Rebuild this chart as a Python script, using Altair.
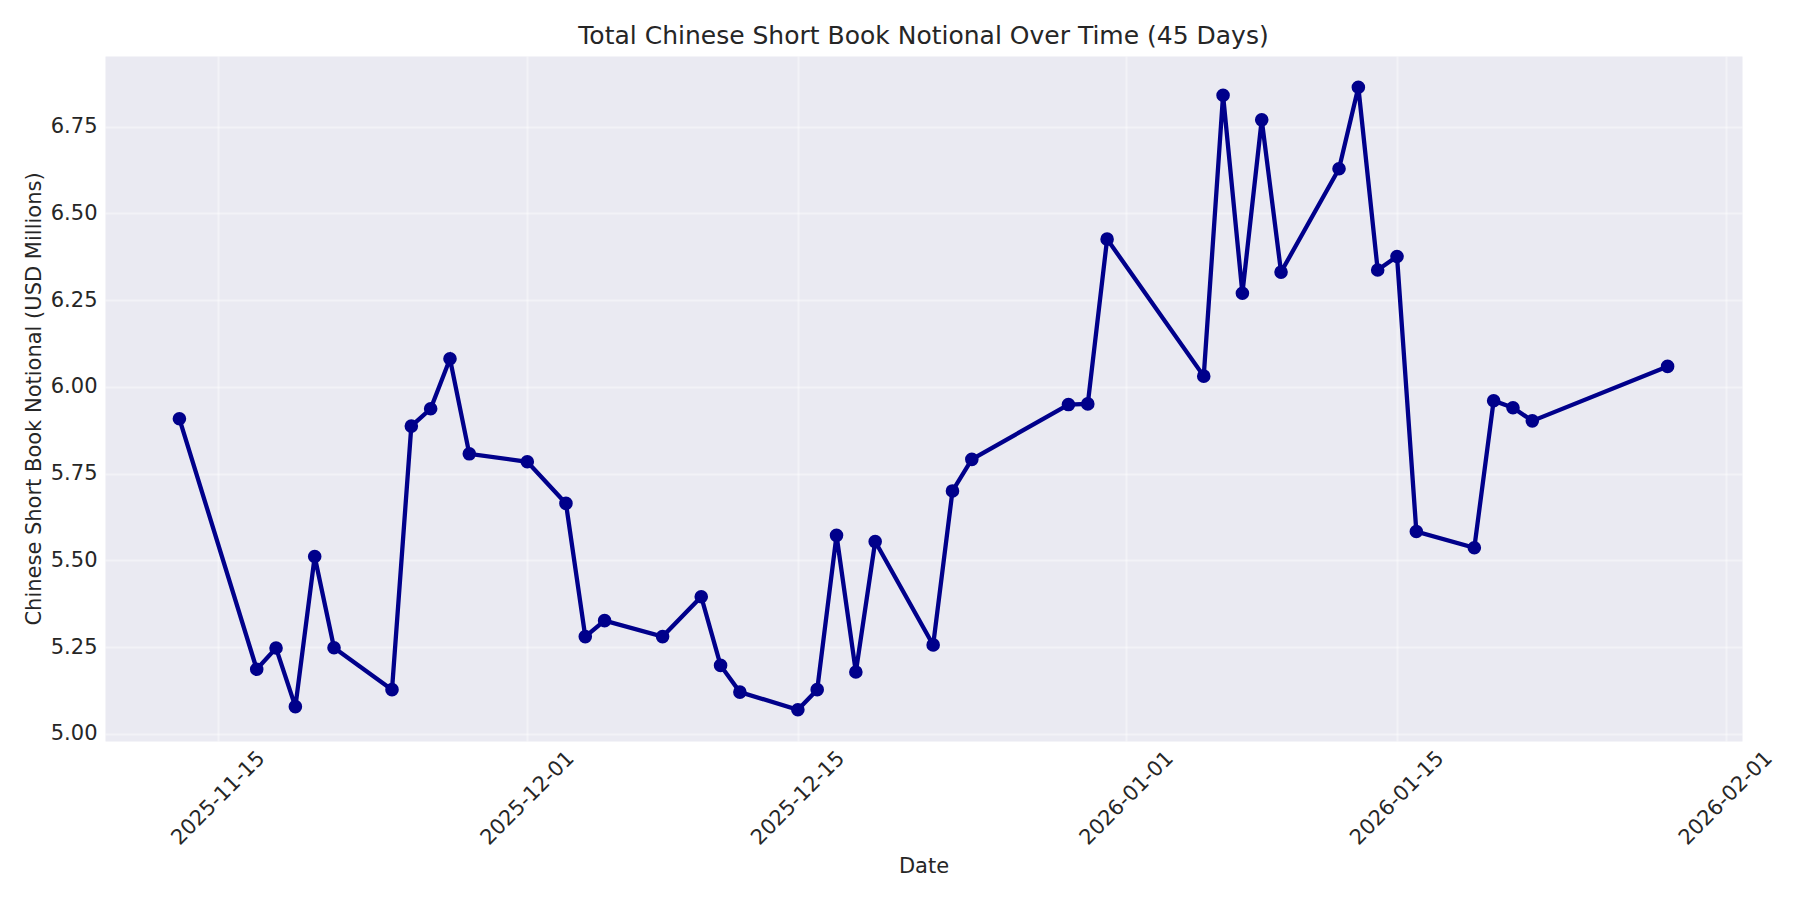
import altair as alt
import pandas as pd

dates = [
    "2025-11-13", "2025-11-17", "2025-11-18", "2025-11-19", "2025-11-20",
    "2025-11-21", "2025-11-24", "2025-11-25", "2025-11-26", "2025-11-27",
    "2025-11-28", "2025-12-01", "2025-12-03", "2025-12-04", "2025-12-05",
    "2025-12-08", "2025-12-10", "2025-12-11", "2025-12-12", "2025-12-15",
    "2025-12-16", "2025-12-17", "2025-12-18", "2025-12-19", "2025-12-22",
    "2025-12-23", "2025-12-24", "2025-12-29", "2025-12-30", "2025-12-31",
    "2026-01-05", "2026-01-06", "2026-01-07", "2026-01-08", "2026-01-09",
    "2026-01-12", "2026-01-13", "2026-01-14", "2026-01-15", "2026-01-16",
    "2026-01-19", "2026-01-20", "2026-01-21", "2026-01-22", "2026-01-29",
]
values = [
    5.908, 5.186, 5.247, 5.078, 5.511,
    5.248, 5.127, 5.887, 5.937, 6.081,
    5.807, 5.784, 5.664, 5.280, 5.326,
    5.280, 5.395, 5.197, 5.120, 5.069,
    5.127, 5.572, 5.178, 5.554, 5.256,
    5.700, 5.791, 5.949, 5.951, 6.426,
    6.031, 6.841, 6.270, 6.770, 6.331,
    6.629, 6.864, 6.337, 6.376, 5.583,
    5.536, 5.960, 5.940, 5.902, 6.059,
]
x_ticks = ["2025-11-15", "2025-12-01", "2025-12-15", "2026-01-01", "2026-01-15", "2026-02-01"]
y_ticks = [5.00, 5.25, 5.50, 5.75, 6.00, 6.25, 6.50, 6.75]

df = pd.DataFrame({"date": dates, "value": values})


def dt(s, h=0, m=0):
    yy, mo, d = map(int, s.split("-"))
    return alt.DateTime(year=yy, month=mo, date=d, hours=h, minutes=m, utc=True)


x_domain = [dt("2025-11-09", 3, 36), dt("2026-02-01", 20, 24)]
y_domain = [4.979, 6.954]

W, H = 1637, 685
TEXT = "#262626"
FONT = "DejaVu Sans"
NAVY = "#00008B"

base = alt.Chart(df).encode(
    x=alt.X(
        "date:T",
        title="Date",
        scale=alt.Scale(type="utc", domain=x_domain),
        axis=alt.Axis(
            values=[dt(s) for s in x_ticks],
            format="%Y-%m-%d",
            labelAngle=-45,
            labelAlign="center",
            labelBaseline="middle",
            labelPadding=57,
            labelFlush=False,
            labelOverlap=False,
            titleX=W / 2,
            titleY=131,
            titleBaseline="alphabetic",
        ),
    ),
    y=alt.Y(
        "value:Q",
        title="Chinese Short Book Notional (USD Millions)",
        scale=alt.Scale(domain=y_domain, nice=False, zero=False),
        axis=alt.Axis(
            values=y_ticks,
            format=".2f",
            labelPadding=8,
            labelOverlap=False,
            titleX=-65,
            titleY=H / 2,
            titleBaseline="alphabetic",
        ),
    ),
)

line = base.mark_line(color=NAVY, strokeWidth=4.3)
points = base.mark_circle(color=NAVY, size=185, opacity=1)

chart = (
    (line + points)
    .properties(
        width=W,
        height=H,
        background="white",
        title=alt.Title(
            text="Total Chinese Short Book Notional Over Time (45 Days)",
            fontSize=25,
            font=FONT,
            fontWeight="normal",
            color=TEXT,
            anchor="middle",
            frame="group",
            offset=-12.8,
            baseline="alphabetic",
        ),
        autosize=alt.AutoSizeParams(type="none"),
        padding={"left": 97, "top": 48, "right": 40, "bottom": 150},
    )
    .configure_view(fill="#EAEAF2", stroke="transparent")
    .configure_axis(
        ticks=False,
        tickSize=0,
        domain=False,
        grid=True,
        gridColor="#FFFFFF",
        gridOpacity=0.4,
        gridWidth=2,
        labelFont=FONT,
        labelFontSize=21,
        labelColor=TEXT,
        titleFont=FONT,
        titleFontSize=21,
        titleFontWeight="normal",
        titleColor=TEXT,
    )
)

chart.save("out.html", embed_options={"renderer": "svg", "actions": False})
